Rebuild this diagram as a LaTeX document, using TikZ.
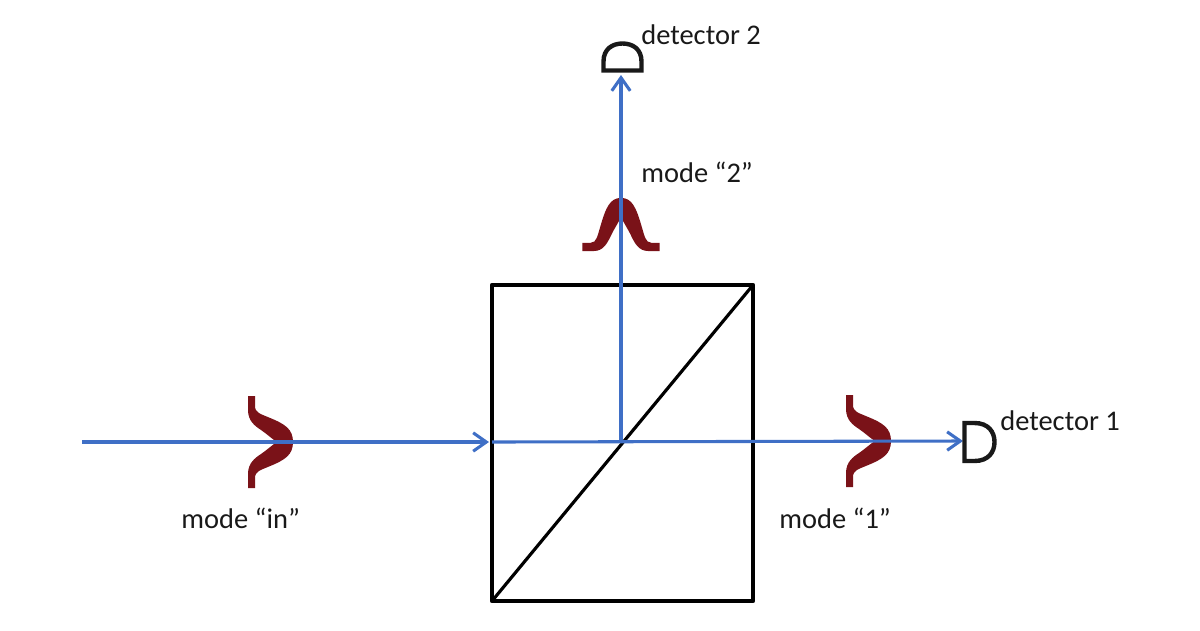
\documentclass[tikz,border=0pt]{standalone}
\usepackage{fontspec}
\setmainfont{Carlito}
\usetikzlibrary{arrows.meta}
\definecolor{beamblue}{HTML}{3F6FC6}
\definecolor{pulsered}{HTML}{7A1218}
\tikzset{
  beam/.style={draw=beamblue,line width=1.75pt,-{Straight Barb[length=7.5pt,width=10.5pt,line width=1.75pt]}},
  modelabel/.style={anchor=base west,inner sep=0pt,font=\fontsize{16.2}{16.2}\selectfont,text=black!90},
  pulse/.pic={\fill[pulsered] (0,46)--(7,46)--(7,36) .. controls (7,29) and (13,28) .. (21,24.5) .. controls (37,18) and (45,13) .. (45,0)
    .. controls (45,-13) and (37,-18) .. (21,-24.5) .. controls (13,-28) and (7,-29) .. (7,-36) -- (7,-46)--(0,-46)--(0,-32)
    .. controls (0,-21) and (7,-16) .. (13,-12) .. controls (19,-8) and (24,-3) .. (29,0)
    .. controls (24,3) and (19,8) .. (13,12) .. controls (7,16) and (0,21) .. (0,32) --cycle;},
  detect/.pic={\draw[black!90,line width=2.5pt,line join=miter] (0,-19)--(0,19)--(10,19) .. controls (24,19) and (30,10) .. (30,0) .. controls (30,-10) and (24,-19) .. (10,-19)--cycle;}
}
\begin{document}
\begin{tikzpicture}[x=.02cm,y=-.02cm,line join=round]
\useasboundingbox (0,0) rectangle (1200,630);
\node[draw,line width=2.5pt,minimum width=5.22cm,minimum height=6.32cm,inner sep=0pt,outer sep=0pt] (cube) at (622.5,443) {};
\draw[line width=1.8pt] (cube.south west)--(cube.north east);
\coordinate (start) at (82,442);
\coordinate (inport) at (489,442);
\coordinate (split) at (621,441);
\coordinate (outa) at (963,441);
\coordinate (outb) at (621,75);
% pulses go under the beams
\pic at (248,442) {pulse};
\pic at (846,441) {pulse};
\pic[rotate=90,xscale=1.18,yscale=.84] at (621,251) {pulse};
\draw[beam] (start)--(inport);
\draw[beam] (inport-|cube.west)--(outa);
\draw[beam] (split)--(outb);
\pic at (964.5,442) {detect};
\pic[rotate=90,xscale=.9,yscale=1] at (622.5,70.5) {detect};
\node[modelabel] (labin) at (181,528) {mode “in”};
\node[modelabel] (labone) at (779,528) {mode “1”};
\node[modelabel] (labtwo) at (641,182) {mode “2”};
\node[modelabel] (labdeta) at (1000,430) {detector 1};
\node[modelabel] (labdetb) at (641,44) {detector 2};
\end{tikzpicture}
\end{document}
